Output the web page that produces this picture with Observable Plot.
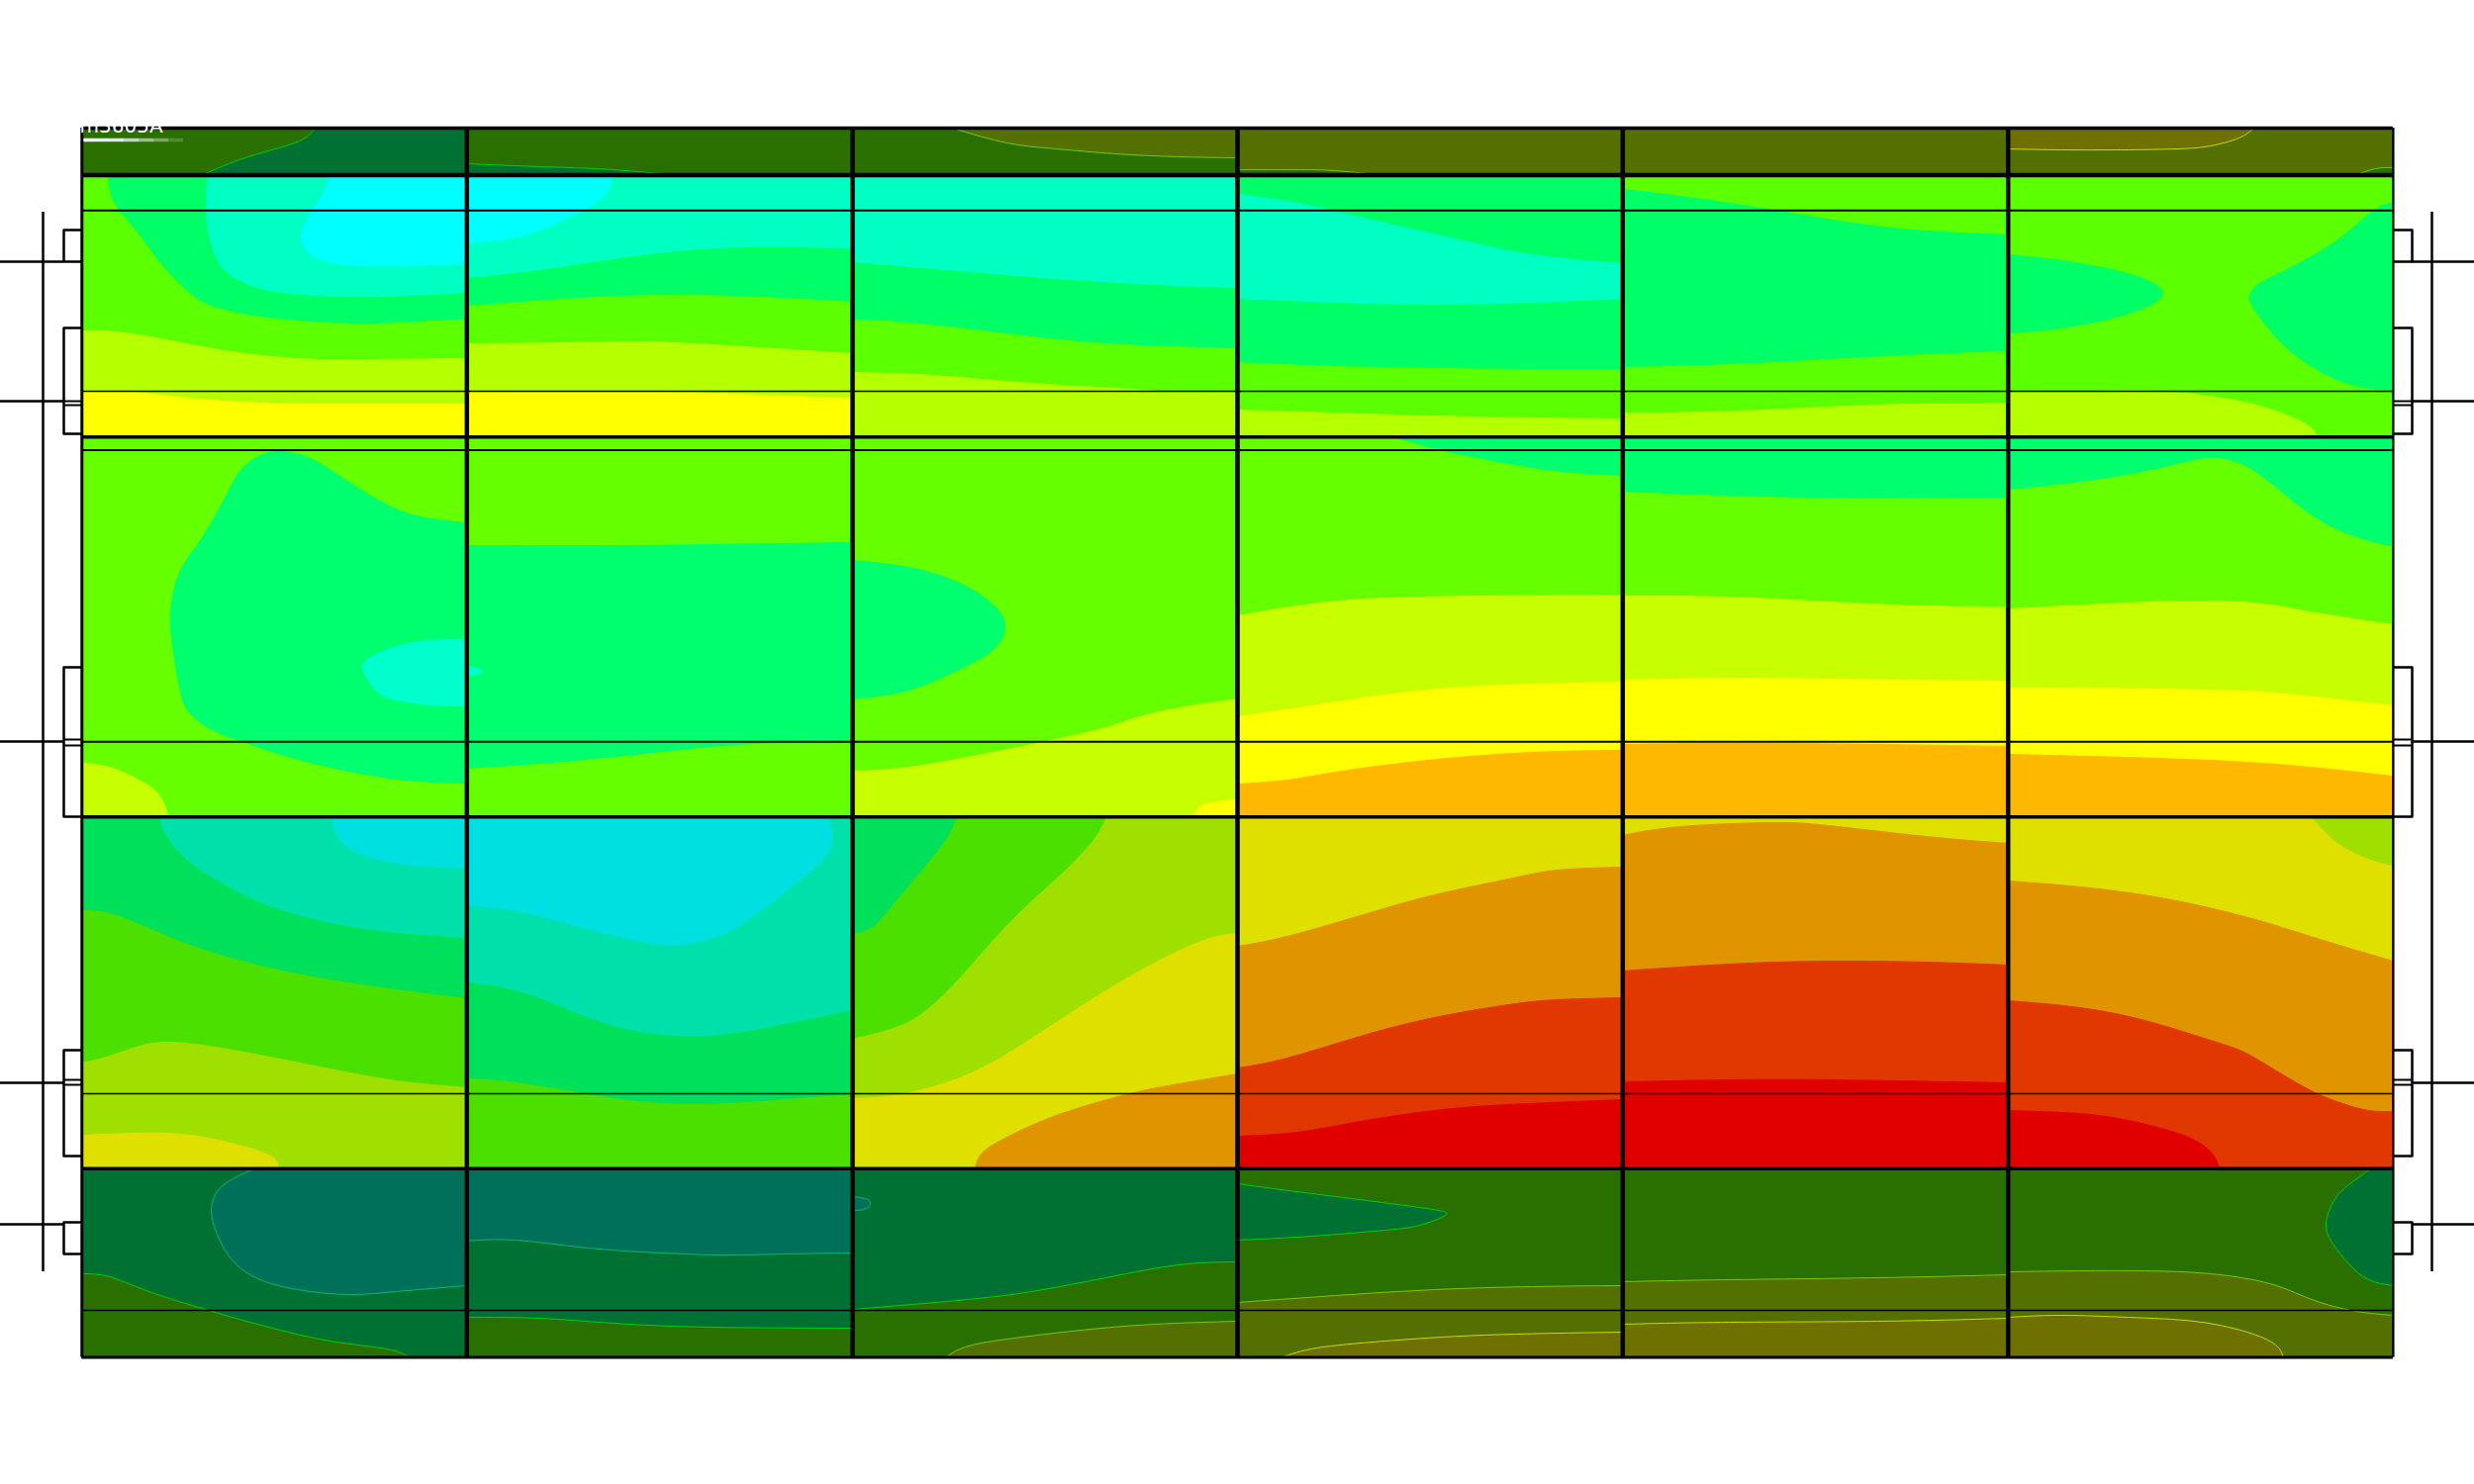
<!DOCTYPE html>
<html>
<head>
<meta charset="utf-8">
<script src="https://cdn.jsdelivr.net/npm/d3@7"></script>
<script src="https://cdn.jsdelivr.net/npm/@observablehq/plot@0.6"></script>
<style>html,body{margin:0;padding:0;background:#fff}svg{display:block}</style>
</head>
<body>
<div id="chart"></div>
<script>
// Subdomain edges (model coordinates)
const columnEdges = [82.3, 471.3, 861, 1250, 1639.3, 2028.7, 2417.8];
const panelEdges = {T:[129,176.5], A:[176.5,441.3], B:[441.3,825.3], C:[825.3,1180.7], D:[1180.7,1371.5]};

// Contour colours by level
const LA="#5CFF00", GA="#00FF66", QA="#00FFC2", CA="#00FFFF", YA="#B4FF00", WA="#FFFF00";
const LB="#66FF00", GB="#00FF6E", QB="#00FFCC", YB="#C8FF00", WB="#FFFF00", OB="#FFB800";
const GC="#00E05A", QC="#00E0AA", CC="#00E0E0", LC="#4CE000", YC="#A0E000", WC="#E0E000", OC="#E09400", RC="#E03800", XC="#E00000";
const TE="#007058", TL="#007033", DG="#2A7000", OL="#537000", BR="#6E7000";
const eTE="#00B878", eTL="#00D000", eOL="#78C800", eBR="#C8DC00";

// Each cell: base colour, then [fill, edge, ...runs]; a run is a contour trace or a corner of the cell
const T1=[DG,[TL,eTL,[[318,129],[302,142],[267,153],[233,164],[204,176]],"BR","TR"]];
const T2=[DG,[TL,eTL,[[471,165],[545,168],[619,171],[694,173],[778,174],[861,175]],"BR","BL"]];
const T3=[DG,[OL,eOL,[[962,129],[1017,144],[1067,150],[1127,155],[1191,158],[1250,159]],"TR"]];
const T4=[OL,[DG,eOL,[[1250,171],[1300,171],[1349,172],[1399,173],[1441,174],[1474,176]],"BL"]];
const T5=[OL];
const T6=[OL,[BR,eBR,[[2029,150],[2083,151],[2143,151],[2200,150],[2233,147],[2262,139],[2277,129]],"TL"],
  [DG,eOL,[[2380,176],[2400,170],[2418,169]],"BR"]];

const A1=[LA,
  [GA,GA,[[109,176],[112,197],[123,215],[143,240],[160,263],[183,288],[210,307],[250,317],[300,323],[367,326],[417,324],[471,322]],"TR"],
  [QA,QA,[[209,176],[208,207],[210,233],[218,260],[233,278],[267,292],[317,298],[383,299],[471,295]],"TR"],
  [CA,CA,[[333,176],[325,197],[315,212],[305,233],[307,250],[327,263],[367,268],[417,268],[471,266]],"TR"],
  [YA,YA,[[82,334],[117,335],[167,343],[233,355],[300,362],[367,363],[471,362]],"BR","BL"],
  [WA,WA,[[82,395],[133,396],[200,403],[267,407],[333,408],[471,408]],"BR","BL"]];
const A2=[QA,
  [CA,CA,[[617,176],[612,195],[589,212],[545,232],[505,242],[471,245]],"TL"],
  [GA,GA,[[471,281],[545,273],[619,262],[694,253],[768,250],[861,251]],"BR","BL"],
  [LA,LA,[[471,309],[570,302],[669,298],[768,300],[861,305]],"BR","BL"],
  [YA,YA,[[471,347],[570,346],[644,345],[719,348],[861,357]],"BR","BL"],
  [WA,WA,[[471,396],[669,396],[768,399],[861,402]],"BR","BL"]];
const A3=[QA,
  [GA,GA,[[861,265],[967,274],[1067,282],[1166,288],[1250,291]],"BR","BL"],
  [LA,LA,[[861,323],[918,326],[1017,337],[1117,347],[1250,352]],"BR","BL"],
  [YA,YA,[[861,376],[943,379],[1042,387],[1142,393],[1191,396],[1250,395]],"BR","BL"]];
const A4=[GA,
  [QA,QA,[[1250,196],[1300,203],[1344,212],[1399,225],[1474,242],[1548,257],[1639,266]],[[1639,301],[1548,305],[1449,307],[1349,305],[1250,301]]],
  [LA,LA,[[1250,366],[1349,370],[1449,372],[1548,373],[1639,373]],"BR","BL"],
  [YA,YA,[[1250,414],[1349,417],[1449,420],[1548,422],[1639,423]],"BR","BL"]];
const A5=[LA,
  [GA,GA,[[1639,191],[1698,198],[1792,212],[1872,225],[1946,233],[2029,237]],[[2029,354],[1946,357],[1847,362],[1747,367],[1639,370]]],
  [YA,YA,[[1639,417],[1723,416],[1822,412],[1921,408],[2029,407]],"BR","BL"]];
const A6=[LA,
  [GA,GA,[[2029,257],[2083,263],[2133,272],[2167,282],[2185,296],[2163,312],[2117,325],[2067,333],[2029,336]]],
  [GA,GA,[[2418,204],[2397,213],[2367,238],[2333,260],[2300,277],[2280,288],[2273,297],[2275,308],[2293,333],[2317,357],[2350,378],[2383,390],[2418,394]]],
  [YA,YA,[[2029,396],[2120,395],[2177,395],[2233,400],[2283,410],[2317,422],[2335,432],[2341,441]],"BL"]];

const B1=[LB,
  [GB,GB,[[471,528],[430,523],[391,510],[343,481],[311,462],[279,456],[255,464],[239,480],[223,510],[199,550],[180,580],[172,620],[175,660],[183,703],[193,722],[213,737],[245,749],[283,762],[333,775],[400,787],[471,791]]],
  [QB,QB,[[471,646],[433,647],[400,653],[377,662],[366,675],[380,698],[400,707],[433,712],[471,713]]],
  [YB,YB,[[82,771],[110,775],[140,788],[160,803],[170,825]],"BL"]];
const B2=[LB,
  [GB,GB,[[471,551],[619,551],[719,550],[861,548]],"BR","BL"],
  [QB,QB,[[471,672],[487,678],[471,683]]],
  [LB,LB,[[471,777],[570,770],[669,760],[744,753],[818,750],[861,748]],"BR","BL"]];
const B3=[LB,
  [GB,GB,[[861,566],[918,573],[967,588],[1002,610],[1015,633],[1002,657],[967,677],[918,697],[861,706]]],
  [YB,YB,[[861,779],[918,775],[992,762],[1052,750],[1117,735],[1166,720],[1250,706]],"BR","BL"],
  [WB,WB,[[1206,825],[1216,813],[1250,808]],"BR"]];
const B4=[LB,
  [GB,GB,[[1409,441],[1459,455],[1524,468],[1578,476],[1639,480]],"TR"],
  [YB,YB,[[1250,622],[1325,610],[1399,604],[1499,602],[1639,601]],"BR","BL"],
  [WB,WB,[[1250,724],[1325,713],[1399,702],[1499,693],[1639,689]],"BR","BL"],
  [OB,OB,[[1250,792],[1300,788],[1349,780],[1424,770],[1499,763],[1573,759],[1639,758]],"BR","BL"]];
const B5=[LB,
  [GB,GB,[[1639,496],[1747,500],[1847,502],[2029,502]],"TR","TL"],
  [YB,YB,[[1639,602],[1747,603],[1847,608],[1946,612],[2029,613]],"BR","BL"],
  [WB,WB,[[1639,687],[1747,685],[1847,686],[2029,688]],"BR","BL"],
  [OB,OB,[[1639,752],[1747,751],[1897,752],[2029,754]],"BR","BL"]];
const B6=[LB,
  [GB,GB,[[2029,494],[2137,481],[2208,466],[2240,462],[2272,472],[2312,502],[2360,534],[2418,552]],"TR","TL"],
  [YB,YB,[[2029,615],[2232,607],[2328,617],[2418,631]],"BR","BL"],
  [WB,WB,[[2029,695],[2232,697],[2328,703],[2418,713]],"BR","BL"],
  [OB,OB,[[2029,762],[2232,768],[2344,776],[2418,784]],"BR","BL"]];

const C1=[GC,
  [QC,QC,[[161,825],[167,843],[187,867],[217,888],[267,913],[333,932],[400,942],[471,947]],"TR"],
  [CC,CC,[[334,825],[340,843],[353,857],[377,867],[417,874],[471,877]],"TR"],
  [LC,LC,[[82,920],[110,923],[150,938],[200,958],[267,977],[333,990],[400,1000],[471,1009]],"BR","BL"],
  [YC,YC,[[82,1074],[110,1067],[140,1057],[173,1053],[217,1058],[267,1067],[333,1080],[400,1092],[471,1099]],"BR","BL"],
  [WC,WC,[[82,1147],[133,1145],[183,1146],[233,1155],[273,1168],[280,1181]],"BL"]];
const C2=[QC,
  [CC,CC,[[836,825],[841,845],[833,866],[808,889],[768,920],[729,944],[684,954],[634,948],[570,932],[520,920],[471,914]],"TL"],
  [GC,GC,[[471,993],[520,1001],[570,1019],[619,1037],[669,1046],[719,1047],[768,1040],[818,1030],[861,1021]],"BR","BL"],
  [LC,LC,[[471,1090],[520,1094],[589,1105],[644,1113],[704,1116],[768,1113],[818,1109],[861,1106]],"BR","BL"]];
const C3=[GC,
  [LC,LC,[[967,825],[953,852],[918,895],[893,925],[878,939],[861,944]],"BL","BR","TR"],
  [YC,YC,[[1118,825],[1102,852],[1067,888],[1032,920],[997,957],[967,991],[938,1019],[908,1037],[861,1050]],"BL","BR","TR"],
  [WC,WC,[[1250,943],[1216,950],[1166,973],[1117,1001],[1067,1033],[1017,1065],[967,1090],[908,1106],[861,1110]],"BL","BR"],
  [OC,OC,[[1250,1085],[1191,1095],[1137,1106],[1067,1127],[1017,1149],[992,1165],[985,1181]],"BR"]];
const C4=[WC,
  [OC,OC,[[1250,956],[1300,946],[1374,925],[1449,904],[1524,888],[1573,879],[1639,876]],"BR","BL"],
  [RC,RC,[[1250,1079],[1300,1069],[1374,1047],[1449,1028],[1524,1015],[1573,1010],[1639,1008]],"BR","BL"],
  [XC,XC,[[1250,1148],[1310,1144],[1374,1133],[1449,1122],[1524,1116],[1639,1111]],"BR","BL"]];
const C5=[WC,
  [OC,OC,[[1639,844],[1698,835],[1787,831],[1847,834],[1946,845],[2029,852]],"BR","BL"],
  [RC,RC,[[1639,981],[1747,974],[1847,971],[1946,972],[2029,975]],"BR","BL"],
  [XC,XC,[[1639,1093],[1747,1091],[1847,1091],[2029,1094]],"BR","BL"]];
const C6=[WC,
  [YC,YC,[[2336,825],[2360,850],[2392,867],[2418,874]],"TR"],
  [OC,OC,[[2029,890],[2152,902],[2264,925],[2344,949],[2418,971]],"BR","BL"],
  [RC,RC,[[2029,1011],[2137,1024],[2230,1050],[2267,1063],[2300,1082],[2337,1103],[2367,1115],[2393,1122],[2418,1123]],"BR","BL"],
  [XC,XC,[[2029,1122],[2100,1125],[2150,1132],[2200,1145],[2227,1158],[2238,1170],[2242,1181]],"BL"]];

const D1=[TL,
  [TE,eTE,[[257,1181],[233,1192],[218,1205],[213,1223],[218,1245],[233,1272],[260,1292],[300,1303],[350,1308],[400,1305],[471,1299]],"TR"],
  [DG,eTL,[[82,1287],[110,1290],[150,1305],[210,1324],[267,1340],[333,1355],[390,1363],[413,1371.5]],"BL"]];
const D2=[TL,
  [TE,eTE,[[471,1254],[520,1253],[594,1261],[669,1266],[729,1268],[793,1267],[861,1266]],"TR","TL"],
  [DG,eTL,[[471,1331],[545,1332],[619,1337],[719,1341],[861,1342]],"BR","BL"]];
const D3=[TL,
  [TE,eTE,[[861,1209],[878,1213],[875,1221],[861,1223]]],
  [DG,eTL,[[861,1323],[967,1314],[1042,1305],[1117,1291],[1191,1278],[1250,1275]],"BR","BL"],
  [OL,eOL,[[955,1371.5],[975,1361],[1017,1353],[1092,1344],[1166,1338],[1250,1335]],"BR"]];
const D4=[DG,
  [TL,eTL,[[1250,1196],[1325,1206],[1434,1220],[1460,1228],[1434,1238],[1399,1243],[1325,1249],[1250,1253]]],
  [OL,eOL,[[1250,1316],[1349,1309],[1449,1303],[1548,1300],[1639,1299]],"BR","BL"],
  [BR,eBR,[[1295,1371.5],[1330,1362],[1399,1355],[1499,1349],[1639,1346]],"BR"]];
const D5=[DG,
  [OL,eOL,[[1639,1295],[1747,1293],[1897,1291],[2029,1288]],"BR","BL"],
  [BR,eBR,[[1639,1338],[1747,1336],[1897,1335],[2029,1332]],"BR","BL"]];
const D6=[DG,
  [TL,eTL,[[2395,1181],[2373,1197],[2358,1213],[2350,1237],[2357,1257],[2373,1277],[2393,1293],[2418,1299]],"TR"],
  [OL,eOL,[[2029,1285],[2100,1284],[2167,1284],[2233,1287],[2293,1297],[2333,1312],[2375,1324],[2418,1329]],"BR","BL"],
  [BR,eBR,[[2029,1331],[2083,1329],[2150,1331],[2217,1335],[2267,1345],[2293,1355],[2303,1363],[2307,1371.5]],"BL"]];

const cells = {T:[T1,T2,T3,T4,T5,T6],A:[A1,A2,A3,A4,A5,A6],B:[B1,B2,B3,B4,B5,B6],C:[C1,C2,C3,C4,C5,C6],D:[D1,D2,D3,D4,D5,D6]};

// Grid lines: [position, width]
const horizontalLines = [[129,3.5],[176.5,4.5],[212.3,2],[394.9,1.5],[441.3,3.5],[454.5,2],[749.3,2],[825.3,3.5],[1105,1.5],[1180.7,3.5],[1324,1.5],[1371.5,3]];
const verticalLines = [[82.3,3],[471.3,4.5],[861,4.5],[1250,4.5],[1639.3,4.5],[2028.7,4.5],[2417.8,2.5]];

// Supports beside the frame
const tickPositions = [264,405,749,1094,1237];
const bracketSpans = [[232,264],[331,438],[674,825],[1061,1168],[1235,1267]];
const bracketStubs = [405,409,747,753,1091,1096];
const sides = [{edge:82.3,bracket:64,axis:43,end:0},{edge:2417.8,bracket:2437,axis:2457,end:2500}];
const axisSpan = [214,1285];

// Label and its fading underline
const labelText = "m3605A";
const fadeEdges = [82,95,110,125,140,155,170,185];
const fadeOpacity = [0.95,0.9,0.85,0.72,0.55,0.38,0.18];

function polygon(runs, x1, x2, y1, y2) {
  const corner = {TL:[x1,y1],TR:[x2,y1],BL:[x1,y2],BR:[x2,y2]};
  const snap = ([x,y]) => [
    Math.abs(x-x1)<5 ? x1 : Math.abs(x-x2)<5 ? x2 : x,
    Math.abs(y-y1)<4 ? y1 : Math.abs(y-y2)<4 ? y2 : y];
  const out = [];
  for (const run of runs) {
    if (typeof run === "string") { const c = corner[run]; out.push(c,c,c); }
    else {
      const p = run.map(snap);
      out.push(p[0], ...p, p[p.length-1]);
    }
  }
  return out;
}

// A curve that treats a repeated point as a break: each trace is smoothed on its own, corners stay sharp
function brokenCurve(context) {
  let pts = [];
  return {
    lineStart(){ pts = []; },
    point(x,y){ pts.push([+x,+y]); },
    lineEnd(){
      const runs = [];
      let run = [];
      for (const p of pts) {
        const last = run[run.length-1];
        if (last && last[0]===p[0] && last[1]===p[1]) { runs.push(run); run = [p]; }
        else run.push(p);
      }
      runs.push(run);
      let started = false;
      const proxy = {
        moveTo(x,y){ if (started) context.lineTo(x,y); else { context.moveTo(x,y); started = true; } },
        lineTo(x,y){ context.lineTo(x,y); },
        closePath(){},
        bezierCurveTo(a,b,c,d,e,f){ context.bezierCurveTo(a,b,c,d,e,f); }
      };
      for (const r of runs) {
        if (r.length === 1) { proxy.moveTo(r[0][0],r[0][1]); continue; }
        const c = d3.curveNatural(proxy);
        c.lineStart();
        r.forEach(p => c.point(p[0],p[1]));
        c.lineEnd();
      }
    },
    areaStart(){}, areaEnd(){}
  };
}

const marks = [];
for (const [key, row] of Object.entries(cells)) {
  const [y1,y2] = panelEdges[key];
  row.forEach((cell,i) => {
    const x1 = columnEdges[i], x2 = columnEdges[i+1];
    marks.push(Plot.rect([{x1,x2,y1,y2}],{x1:"x1",x2:"x2",y1:"y1",y2:"y2",fill:cell[0],inset:0}));
    for (const [fill,edge,...runs] of cell.slice(1)) {
      marks.push(Plot.line(polygon(runs,x1,x2,y1,y2),{
        x:d=>d[0], y:d=>d[1], fill, stroke:edge, strokeWidth:1, curve:brokenCurve
      }));
    }
  });
}

// Label's fading underline
marks.push(Plot.ruleY(fadeOpacity.map((o,i)=>({x1:fadeEdges[i],x2:fadeEdges[i+1],o})),{
  y:()=>141,x1:"x1",x2:"x2",stroke:"#fff",strokeWidth:3.5,strokeOpacity:"o"}));

for (const s of sides) {
  marks.push(Plot.ruleX([s.axis],{y1:axisSpan[0],y2:axisSpan[1],stroke:"#000",strokeWidth:2.5}));
  marks.push(Plot.ruleY(tickPositions,{x1:s.end,x2:s.bracket,stroke:"#000",strokeWidth:2.5}));
  marks.push(Plot.ruleY(bracketStubs,{x1:s.bracket,x2:s.edge,stroke:"#000",strokeWidth:2}));
  bracketSpans.forEach(([a,b]) => {
    marks.push(Plot.line([[s.edge,a],[s.bracket,a],[s.bracket,b],[s.edge,b]],{
      x:d=>d[0],y:d=>d[1],stroke:"#000",strokeWidth:2.5,strokeLinejoin:"round"}));
  });
}

marks.push(Plot.ruleY(horizontalLines,{y:d=>d[0],x1:columnEdges[0],x2:columnEdges[6],stroke:"#000",strokeWidth:d=>d[1]}));
marks.push(Plot.ruleX(verticalLines,{x:d=>d[0],y1:panelEdges.T[0],y2:panelEdges.D[1],stroke:"#000",strokeWidth:d=>d[1]}));
marks.push(Plot.text([labelText],{x:()=>80,y:()=>133,text:d=>d,fill:"#fff",textAnchor:"start",lineAnchor:"bottom",fontSize:20,fontFamily:"DejaVu Sans"}));

const chart = Plot.plot({
  width:2500,height:1500,margin:0,
  x:{domain:[0,2500],range:[0,2500],axis:null},
  y:{domain:[0,1500],range:[0,1500],axis:null},
  style:{background:"#fff"},
  marks
});
document.getElementById("chart").append(chart);
</script>
</body>
</html>
